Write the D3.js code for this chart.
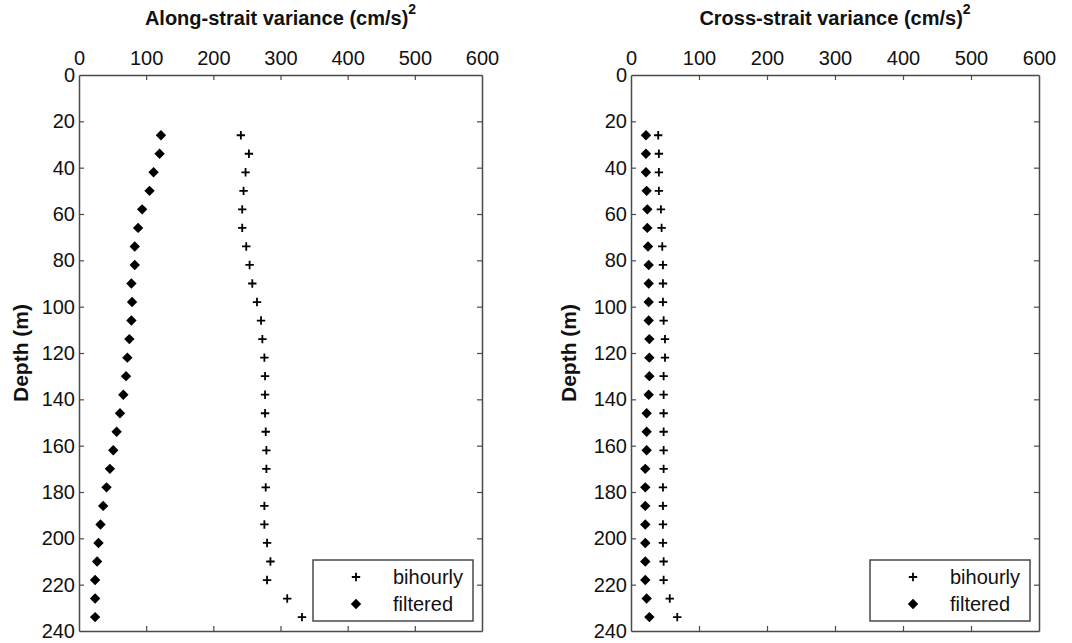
<!DOCTYPE html>
<html>
<head>
<meta charset="utf-8">
<script src="https://cdn.jsdelivr.net/npm/d3@7"></script>
<style>
  html, body { margin: 0; padding: 0; background: #fff; }
  svg { display: block; font-family: "Liberation Sans", Arial, sans-serif; }
</style>
</head>
<body>
<svg id="chart" width="1072" height="643"></svg>
<script>
// ---- data ----
const depths = [26,34,42,50,58,66,74,82,90,98,106,114,122,130,138,146,154,162,170,178,186,194,202,210,218,226,234];
const alongBihourly = [241,253,248,245,243,243,249,254,258,265,271,273,276,277,277,277,278,279,279,278,276,276,280,285,280,310,332];
const alongFiltered = [122,120,111,105,94,88,83,83,78,79,78,75,72,70,66,61,56,51,46,41,36,32,29,27,24,24,24];
const crossBihourly = [40,41,41,41,44,45,46,47,47,47,48,50,50,48,48,48,48,48,48,47,47,47,47,48,48,57,68];
const crossFiltered = [22,22,22,23,24,24,25,26,26,26,26,27,27,27,26,23,23,23,21,21,21,21,21,21,21,23,27];
const xTicks = [0,100,200,300,400,500,600];
const yTicks = [0,20,40,60,80,100,120,140,160,180,200,220,240];
const titles = ["Along-strait variance (cm/s)", "Cross-strait variance (cm/s)"];
const yLabel = "Depth (m)";
const legendLabels = ["bihourly", "filtered"];

// ---- layout ----
const svg = d3.select("#chart");
const plotTop = 75, plotBottom = 631;
const panels = [
  { left: 79, right: 482, title: titles[0], bi: alongBihourly, fi: alongFiltered, ylabX: 21 },
  { left: 631, right: 1039, title: titles[1], bi: crossBihourly, fi: crossFiltered, ylabX: 569 }
];
const axisColor = "#4a4a4a";
const crossPath = "M-4.2,0H4.2M0,-4.2V4.2";
const diamondPath = "M0,-5.2L5.2,0L0,5.2L-5.2,0Z";

panels.forEach(p => {
  const x = d3.scaleLinear().domain([0, 600]).range([p.left, p.right]);
  const y = d3.scaleLinear().domain([0, 240]).range([plotTop, plotBottom]);
  const g = svg.append("g");

  // axes
  const gTop = g.append("g").attr("transform", `translate(0,${plotTop})`)
    .call(d3.axisTop(x).tickValues(xTicks).tickSizeInner(-5).tickSizeOuter(0).tickPadding(10));
  const gBot = g.append("g").attr("transform", `translate(0,${plotBottom})`)
    .call(d3.axisBottom(x).tickValues(xTicks).tickSizeInner(-5).tickSizeOuter(0).tickFormat(""));
  const gLeft = g.append("g").attr("transform", `translate(${p.left},0)`)
    .call(d3.axisLeft(y).tickValues(yTicks).tickSizeInner(-5).tickSizeOuter(0).tickPadding(4));
  const gRight = g.append("g").attr("transform", `translate(${p.right},0)`)
    .call(d3.axisRight(y).tickValues(yTicks).tickSizeInner(-5).tickSizeOuter(0).tickFormat(""));
  [gTop, gBot, gLeft, gRight].forEach(a => {
    a.selectAll("path.domain").attr("stroke", axisColor).attr("stroke-width", 1.5);
    a.selectAll(".tick line").attr("stroke", axisColor).attr("stroke-width", 1.2);
    a.selectAll(".tick text").attr("fill", "#111").attr("font-size", 20)
      .attr("font-family", "'Liberation Sans', Arial, sans-serif");
  });
  gTop.selectAll(".tick line").filter(d => d === 0 || d === 600).remove();
  gBot.selectAll(".tick line").filter(d => d === 0 || d === 600).remove();
  gLeft.selectAll(".tick line").filter(d => d === 0 || d === 240).remove();
  gRight.selectAll(".tick line").filter(d => d === 0 || d === 240).remove();

  // title with superscript
  const cx = (p.left + p.right) / 2;
  const t = g.append("text").attr("x", cx).attr("y", 25).attr("text-anchor", "middle")
    .attr("font-size", 20).attr("font-weight", "bold").attr("fill", "#111");
  t.append("tspan").text(p.title);
  t.append("tspan").attr("dx", 0).attr("dy", -11).attr("font-size", 14).text("2");

  // y label
  g.append("text").attr("transform", `translate(${p.ylabX},${(plotTop + plotBottom) / 2}) rotate(-90)`)
    .attr("text-anchor", "middle").attr("dy", "0.35em")
    .attr("font-size", 21).attr("font-weight", "bold").attr("fill", "#111").text(yLabel);

  // points
  g.append("g").selectAll("path").data(depths).join("path")
    .attr("d", crossPath)
    .attr("transform", (d, i) => `translate(${x(p.bi[i])},${y(d)})`)
    .attr("stroke", "#000").attr("stroke-width", 1.8).attr("fill", "none");
  g.append("g").selectAll("path").data(depths).join("path")
    .attr("d", diamondPath)
    .attr("transform", (d, i) => `translate(${x(p.fi[i])},${y(d)})`)
    .attr("fill", "#000");

  // legend
  const lw = 160, lh = 61;
  const lx = p.right - 9 - lw, ly = plotBottom - 10 - lh;
  const lg = g.append("g").attr("transform", `translate(${lx},${ly})`);
  lg.append("rect").attr("width", lw).attr("height", lh)
    .attr("fill", "#fff").attr("stroke", axisColor).attr("stroke-width", 1.5);
  lg.append("path").attr("d", crossPath).attr("transform", "translate(43,17)")
    .attr("stroke", "#000").attr("stroke-width", 1.8).attr("fill", "none");
  lg.append("path").attr("d", diamondPath).attr("transform", "translate(43,44)").attr("fill", "#000");
  lg.append("text").attr("x", 80).attr("y", 24).attr("font-size", 20).attr("fill", "#111").text(legendLabels[0]);
  lg.append("text").attr("x", 80).attr("y", 51).attr("font-size", 20).attr("fill", "#111").text(legendLabels[1]);
});
</script>
</body>
</html>
